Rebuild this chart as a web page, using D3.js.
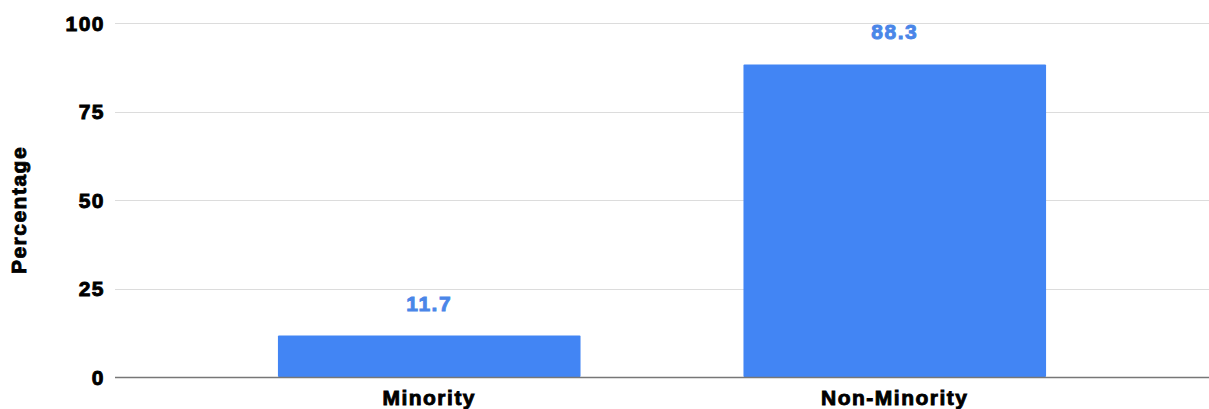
<!DOCTYPE html>
<meta charset="utf-8">
<head>
    <title>Percentage by group</title>
    <script src="https://cdn.jsdelivr.net/npm/d3@7"></script>
    <style>
    body { margin: 0; background: #fff; }
    text { font-family: "Liberation Sans", Arial, sans-serif; font-weight: bold; letter-spacing: 1.5px; stroke-width: 0.9px; }
    </style>
</head>
<body>
<svg id="chart"></svg>
<script>
    var categories = ["Minority", "Non-Minority"];
    var values = [11.7, 88.3];
    var yTicks = [0, 25, 50, 75, 100];

    var W = 1209, H = 409;
    var margin = {top: 23, right: 0, bottom: 32, left: 115};
    var width = W - margin.left - margin.right, height = H - margin.top - margin.bottom;

    var svg = d3.select("#chart").attr("width", W).attr("height", H);
    var g = svg.append("g").attr("transform", "translate(" + margin.left + "," + margin.top + ")");

    var x = d3.scaleBand().domain(categories).range([0, width]).paddingInner(0.35).paddingOuter(0.35);
    var y = d3.scaleLinear().domain([0, 100]).range([height, 0]);

    // gridlines
    g.selectAll(".grid").data(yTicks.filter(function(d){ return d > 0; })).enter().append("line")
        .attr("x1", 0).attr("x2", width)
        .attr("y1", function(d){ return Math.round(y(d)) + 0.5; })
        .attr("y2", function(d){ return Math.round(y(d)) + 0.5; })
        .attr("stroke", "#dcdcdc").attr("stroke-width", 1);

    // y tick labels
    g.selectAll(".ytick").data(yTicks).enter().append("text")
        .attr("x", -10).attr("y", function(d){ return y(d); })
        .attr("dy", "0.36em").attr("text-anchor", "end")
        .attr("font-size", "21px").attr("fill", "#000").attr("stroke", "#000")
        .text(function(d){ return d; });

    // bars
    g.selectAll(".bar").data(values).enter().append("rect")
        .attr("x", function(d, i){ return x(categories[i]); })
        .attr("y", function(d){ return y(d); })
        .attr("width", x.bandwidth())
        .attr("height", function(d){ return height - y(d); })
        .attr("fill", "#4285f4").attr("rx", 1);

    // value labels
    g.selectAll(".val").data(values).enter().append("text")
        .attr("x", function(d, i){ return x(categories[i]) + x.bandwidth() / 2; })
        .attr("y", function(d){ return y(d) - 25; })
        .attr("text-anchor", "middle").attr("font-size", "21px")
        .attr("fill", "#4a86e8").attr("stroke", "#4a86e8")
        .text(function(d){ return d3.format(".1f")(d); });

    // baseline
    g.append("line").attr("x1", 0).attr("x2", width)
        .attr("y1", height + 0.5).attr("y2", height + 0.5)
        .attr("stroke", "#777").attr("stroke-width", 1.5);

    // x labels
    g.selectAll(".xlab").data(categories).enter().append("text")
        .attr("x", function(d){ return x(d) + x.bandwidth() / 2; })
        .attr("y", height + 28)
        .attr("text-anchor", "middle").attr("font-size", "21px")
        .attr("fill", "#000").attr("stroke", "#000")
        .text(function(d){ return d; });

    // y axis title
    svg.append("text")
        .attr("transform", "translate(26," + (margin.top + height / 2 + 10) + ") rotate(-90)")
        .attr("text-anchor", "middle").attr("font-size", "21px")
        .attr("fill", "#000").attr("stroke", "#000")
        .text("Percentage");
</script>
</body>
</html>
